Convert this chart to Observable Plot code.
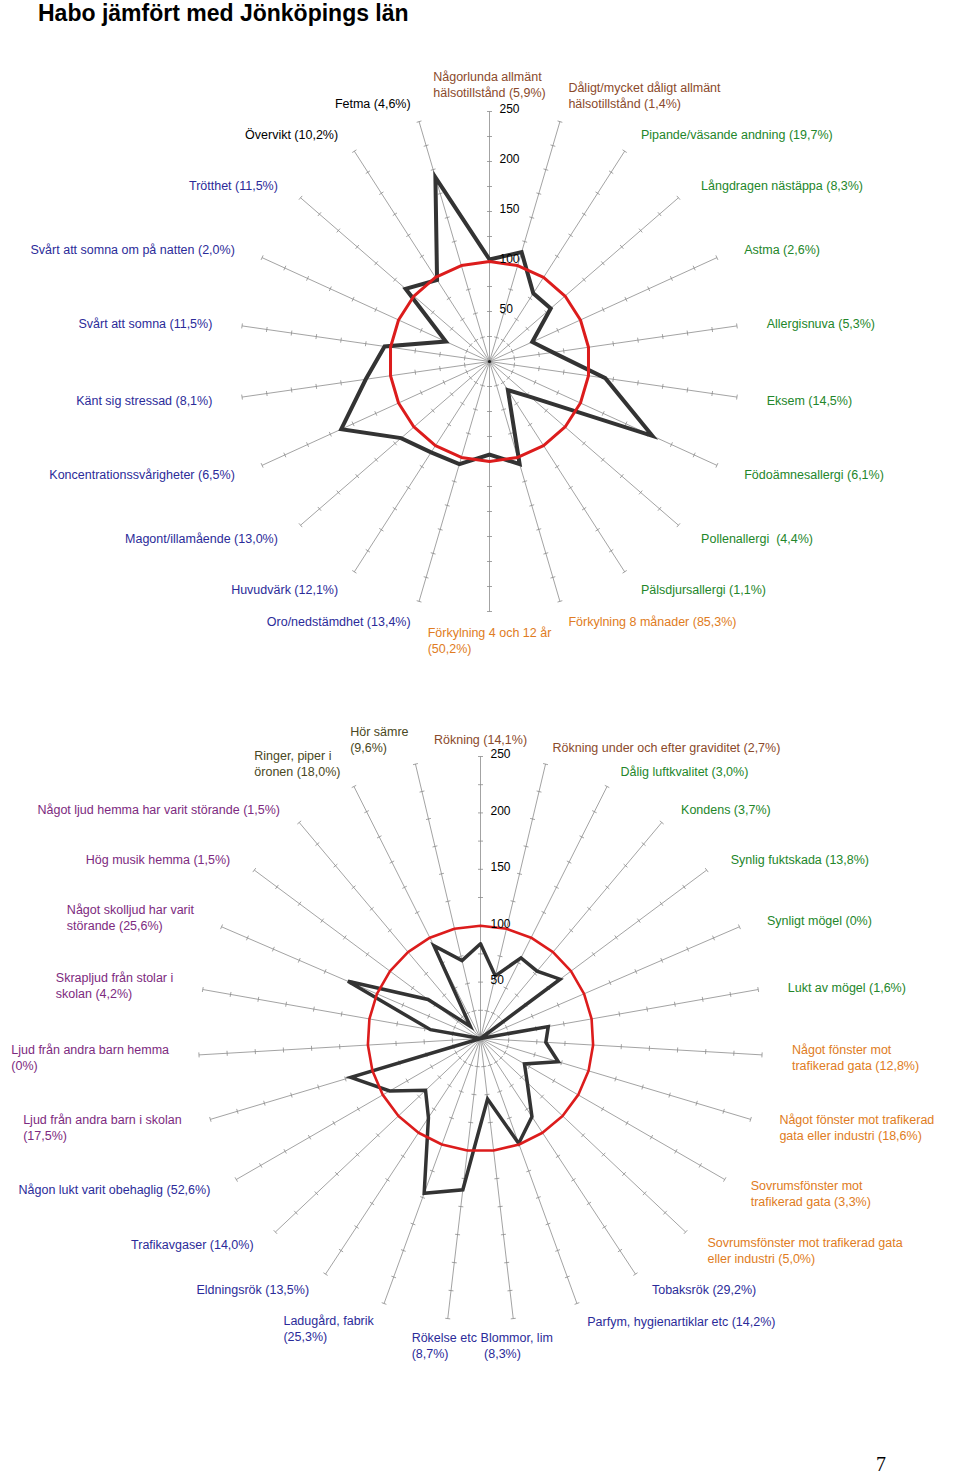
<!DOCTYPE html>
<html><head><meta charset="utf-8">
<script src="https://cdn.jsdelivr.net/npm/d3@7"></script>
<script src="https://cdn.jsdelivr.net/npm/@observablehq/plot@0.6"></script>
<style>
body{margin:0;background:#fff;}
#page{width:960px;height:1477px;position:relative;overflow:hidden;background:#fff;}
#title{height:34px;margin:0;padding-left:38px;font:bold 23px "Liberation Sans",Arial,sans-serif;line-height:26px;color:#000;white-space:nowrap;}
#footer{height:37px;position:relative;}
#footer span{position:absolute;left:876px;top:14px;font:20px "Liberation Serif","DejaVu Serif",serif;line-height:20px;color:#000;}
svg{display:block}
</style></head>
<body><div id="page"><div id="title">Habo jämfört med Jönköpings län</div><div id="top"></div><div id="bottom"></div><div id="footer"><span>7</span></div></div>
<script>
// ---------- data ----------
const topLabels = [
  "Någorlunda allmänt\nhälsotillstånd (5,9%)",
  "Dåligt/mycket dåligt allmänt\nhälsotillstånd (1,4%)",
  "Pipande/väsande andning (19,7%)",
  "Långdragen nästäppa (8,3%)",
  "Astma (2,6%)",
  "Allergisnuva (5,3%)",
  "Eksem (14,5%)",
  "Födoämnesallergi (6,1%)",
  "Pollenallergi  (4,4%)",
  "Pälsdjursallergi (1,1%)",
  "Förkylning 8 månader (85,3%)",
  "Förkylning 4 och 12 år\n(50,2%)",
  "Oro/nedstämdhet (13,4%)",
  "Huvudvärk (12,1%)",
  "Magont/illamående (13,0%)",
  "Koncentrationssvårigheter (6,5%)",
  "Känt sig stressad (8,1%)",
  "Svårt att somna (11,5%)",
  "Svårt att somna om på natten (2,0%)",
  "Trötthet (11,5%)",
  "Övervikt (10,2%)",
  "Fetma (4,6%)"
];
const topGroups = ["halsa","halsa","allergi","allergi","allergi","allergi","allergi","allergi","allergi","allergi",
  "forkylning","forkylning","psyk","psyk","psyk","psyk","psyk","psyk","psyk","psyk","vikt","vikt"];
const topHabo = [102,114,81,81,47,64,117,179,54,34,107,93,107,108,117,163,125,106,48,111,97,192];
const topLan  = [100,100,100,100,100,100,100,100,100,100,100,100,100,100,100,100,100,100,100,100,100,100];

const bottomLabels = [
  "Rökning (14,1%)",
  "Rökning under och efter graviditet (2,7%)",
  "Dålig luftkvalitet (3,0%)",
  "Kondens (3,7%)",
  "Synlig fuktskada (13,8%)",
  "Synligt mögel (0%)",
  "Lukt av mögel (1,6%)",
  "Något fönster mot\ntrafikerad gata (12,8%)",
  "Något fönster mot trafikerad\ngata eller industri (18,6%)",
  "Sovrumsfönster mot\ntrafikerad gata (3,3%)",
  "Sovrumsfönster mot trafikerad gata\neller industri (5,0%)",
  "Tobaksrök (29,2%)",
  "Parfym, hygienartiklar etc (14,2%)",
  "Blommor, lim\n (8,3%)",
  "Rökelse etc\n(8,7%)",
  "Ladugård, fabrik\n(25,3%)",
  "Eldningsrök (13,5%)",
  "Trafikavgaser (14,0%)",
  "Någon lukt varit obehaglig (52,6%)",
  "Ljud från andra barn i skolan\n(17,5%)",
  "Ljud från andra barn hemma\n(0%)",
  "Skrapljud från stolar i\nskolan (4,2%)",
  "Något skolljud har varit\nstörande (25,6%)",
  "Hög musik hemma (1,5%)",
  "Något ljud hemma har varit störande (1,5%)",
  "Ringer, piper i\nöronen (18,0%)",
  "Hör sämre\n(9,6%)"
];
const bottomGroups = ["rok","rok","fukt","fukt","fukt","fukt","fukt","trafik","trafik","trafik","trafik",
  "lukt","lukt","lukt","lukt","lukt","lukt","lukt","lukt","ljud","ljud","ljud","ljud","ljud","ljud","horsel","horsel"];
const bottomHabo = [84,57,80,78,88,0,61,58,72,45,57,83,99,54,135,146,84,67,93,120,0,45,128,58,14,92,71];
const bottomLan  = [100,100,100,100,100,100,100,100,100,100,100,100,100,100,100,100,100,100,100,100,100,100,100,100,100,100,100];

const tickValues = [25,50,75,100,125,150,175,200,225,250];
const tickLabels = [50,100,150,200,250];
const axisMax = 250;

const groupColors = {
  halsa: "#8b4a2b", rok: "#8b4a2b",
  allergi: "#23862a", fukt: "#23862a",
  forkylning: "#e07c22", trafik: "#e07c22",
  psyk: "#2b2b99", lukt: "#2b2b99",
  vikt: "#000000",
  ljud: "#7d2a80",
  horsel: "#4a4822"
};

// ---------- helpers ----------
const FONT = "'Liberation Sans', Arial, Helvetica, sans-serif";
const FS = 12.5, LH = 16;
const ctx = document.createElement("canvas").getContext("2d");
ctx.font = `${FS}px ${FONT}`;
const measure = s => ctx.measureText(s).width;

function radar({labels, groups, habo, lan, k, cx, cy, width, height, habW, lanW, gx, gy}) {
  const n = labels.length;
  const ang = i => i * 2 * Math.PI / n;
  const px = v => v / k;
  const axes = labels.map((label, i) => ({i, label, group: groups[i], a: ang(i)}));
  const ticks = axes.flatMap(ax => tickValues.map(t => ({a: ax.a, t})));
  const half = px(2.5);
  const closed = arr => { const p = arr.map((v, i) => ({v, a: ang(i)})); p.push(p[0]); return p; };
  const habPts = closed(habo), lanPts = closed(lan);
  const Rpx = axisMax * k;
  const labelData = axes.map(ax => {
    const s = Math.sin(ax.a), c = Math.cos(ax.a);
    const lines = ax.label.split("\n");
    const f = Math.abs(s) < 0.2 ? 0.5 : s > 0 ? 0 : 1;
    const w = d3.max(lines, measure);
    const hh = lines.length * LH / 2;
    const lx = Rpx * s + gx * s - f * w;
    const ly = Rpx * c + c * (gy + hh);
    return {...ax, x: px(lx), y: px(ly)};
  });
  const PX = d => d.v * Math.sin(d.a), PY = d => d.v * Math.cos(d.a);
  return Plot.plot({
    width, height, margin: 0,
    x: {domain: [-cx / k, (width - cx) / k], range: [0, width], axis: null},
    y: {domain: [-(height - cy) / k, cy / k], range: [height, 0], axis: null},
    style: {fontFamily: FONT, fontSize: FS + "px", background: "#fff", overflow: "visible"},
    marks: [
      Plot.link(axes, {x1: 0, y1: 0, x2: d => axisMax * Math.sin(d.a), y2: d => axisMax * Math.cos(d.a),
        stroke: "#8c8c8c", strokeWidth: 0.8}),
      Plot.link(ticks, {
        x1: d => d.t * Math.sin(d.a) - half * Math.cos(d.a), y1: d => d.t * Math.cos(d.a) + half * Math.sin(d.a),
        x2: d => d.t * Math.sin(d.a) + half * Math.cos(d.a), y2: d => d.t * Math.cos(d.a) - half * Math.sin(d.a),
        stroke: "#8c8c8c", strokeWidth: 0.8}),
      Plot.dot([0], {x: 0, y: 0, r: 1.6, fill: "#222", stroke: null}),
      Plot.line(habPts, {x: PX, y: PY, stroke: "#333", strokeWidth: habW, strokeLinejoin: "miter", strokeMiterlimit: 4}),
      Plot.line(lanPts, {x: PX, y: PY, stroke: "#dc1c1c", strokeWidth: lanW, strokeLinejoin: "round"}),
      Plot.text(tickLabels, {x: 0, y: d => d, dx: 10, dy: -2, textAnchor: "start", fontSize: 12, fill: "#000"}),
      Plot.text(labelData, {x: "x", y: "y", text: "label", fill: d => groupColors[d.group],
        textAnchor: "start", lineAnchor: "middle", fontSize: FS, lineHeight: LH / FS})
    ]
  });
}

document.getElementById("top").append(radar({
  labels: topLabels, groups: topGroups, habo: topHabo, lan: topLan,
  k: 1, cx: 489, cy: 327, width: 960, height: 660, habW: 4, lanW: 3, gx: 30, gy: 12
}));
document.getElementById("bottom").append(radar({
  labels: bottomLabels, groups: bottomGroups, habo: bottomHabo, lan: bottomLan,
  k: 1.128, cx: 480, cy: 344, width: 960, height: 746, habW: 3.5, lanW: 2.6, gx: 30, gy: 10
}));
</script>
</body></html>
